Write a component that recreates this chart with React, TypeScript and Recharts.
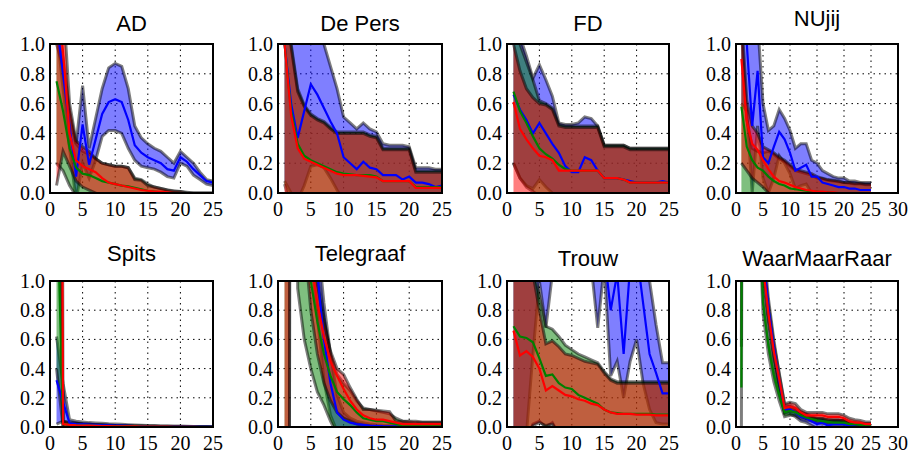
import React from "react";
import { ComposedChart, Area, Line, XAxis, YAxis, CartesianGrid } from "recharts";

const STEPS = [1, 2, 3, 4, 5, 6, 7, 8, 9, 10, 11, 12, 13, 14, 15, 16, 17, 18, 19, 20, 21, 22, 23, 24, 25];
const Y_TICKS = [0, 0.2, 0.4, 0.6, 0.8, 1.0];
const X_TICKS_25 = [0, 5, 10, 15, 20, 25];
const X_TICKS_30 = [0, 5, 10, 15, 20, 25, 30];

// AD
const AD_BLUE = [1.15, 0.8, 0.45, 0.11, 0.46, 0.19, 0.36, 0.53, 0.61, 0.63, 0.61, 0.49, 0.32, 0.27, 0.24, 0.22, 0.2, 0.16, 0.15, 0.24, 0.21, 0.16, 0.12, 0.08, 0.07];
const AD_BLUE_HI = [1.2, 0.9, 0.55, 0.33, 0.72, 0.3, 0.5, 0.7, 0.84, 0.87, 0.85, 0.7, 0.45, 0.37, 0.33, 0.3, 0.28, 0.24, 0.2, 0.28, 0.24, 0.2, 0.14, 0.09, 0.08];
const AD_BLUE_LO = [1.1, 0.7, 0.3, -0.05, 0.2, 0.1, 0.22, 0.38, 0.42, 0.42, 0.4, 0.3, 0.22, 0.18, 0.17, 0.16, 0.14, 0.11, 0.1, 0.2, 0.18, 0.12, 0.09, 0.06, 0.05];
const AD_GREEN = [0.75, 0.55, 0.3, 0.17, 0.13, 0.12, 0.1, 0.08, 0.07, 0.06, 0.05, 0.045, 0.035, 0.025, 0.015, 0.01, 0.005, 0, 0, 0, 0, 0, 0, 0, 0];
const AD_GREEN_HI = [1.0, 0.85, 0.5, 0.33, 0.28, 0.26, 0.23, 0.2, 0.19, 0.18, 0.18, 0.17, 0.1, 0.09, 0.06, 0.04, 0.03, 0.02, 0.01, 0.01, 0, 0, 0, 0, 0];
const AD_GREEN_LO = [0.2, 0.15, 0.05, -0.02, -0.04, -0.05, -0.05, -0.05, -0.05, -0.05, -0.05, -0.05, -0.04, -0.04, -0.03, -0.02, -0.02, -0.02, -0.01, -0.01, -0.01, -0.01, -0.01, -0.01, -0.01];
const AD_RED = [1.4, 0.95, 0.4, 0.22, 0.18, 0.16, 0.14, 0.1, 0.07, 0.06, 0.05, 0.04, 0.03, 0.02, 0.015, 0.01, 0.01, 0.005, 0, 0, 0, 0, 0, 0, 0];
const AD_RED_HI = [1.8, 1.3, 0.6, 0.35, 0.31, 0.28, 0.23, 0.2, 0.19, 0.18, 0.18, 0.17, 0.09, 0.085, 0.05, 0.04, 0.03, 0.02, 0.015, 0.01, 0.005, 0, 0, 0, 0];
const AD_RED_LO = [0.05, 0.28, 0.18, 0.08, 0.04, 0.02, 0, -0.02, -0.02, -0.02, -0.02, -0.02, -0.02, -0.02, -0.02, -0.02, -0.02, -0.02, -0.02, -0.02, -0.02, -0.02, -0.02, -0.02, -0.02];

// De Pers
const DP_BLUE = [1.0, 0.6, 0.37, 0.55, 0.73, 0.66, 0.57, 0.48, 0.4, 0.24, 0.2, 0.16, 0.21, 0.17, 0.16, 0.12, 0.12, 0.12, 0.09, 0.11, 0.07, 0.07, 0.06, 0.04, 0.05];
const DP_BLUE_HI = [1.5, 1.3, 1.1, 1.2, 1.3, 1.1, 1.0, 0.85, 0.7, 0.51, 0.47, 0.43, 0.47, 0.43, 0.41, 0.33, 0.32, 0.32, 0.32, 0.31, 0.17, 0.17, 0.17, 0.16, 0.16];
const DP_BLUE_LO = [0.08, 0, -0.05, 0.05, 0.18, 0.19, 0.17, 0.1, 0.02, -0.05, -0.05, -0.05, -0.05, -0.05, -0.05, -0.05, -0.05, -0.05, -0.05, -0.05, -0.05, -0.05, -0.05, -0.05, -0.05];
const DP_GREEN = [1.0, 0.55, 0.33, 0.25, 0.22, 0.2, 0.18, 0.16, 0.14, 0.13, 0.125, 0.12, 0.12, 0.12, 0.11, 0.08, 0.08, 0.08, 0.08, 0.08, 0.04, 0.04, 0.04, 0.04, 0.04];
const DP_GREEN_HI = [1.3, 1.0, 0.7, 0.59, 0.53, 0.5, 0.48, 0.44, 0.41, 0.41, 0.41, 0.41, 0.41, 0.39, 0.38, 0.3, 0.3, 0.3, 0.3, 0.3, 0.15, 0.15, 0.15, 0.15, 0.15];
const DP_GREEN_LO = [0.06, -0.1, -0.15, -0.15, -0.1, -0.1, -0.08, -0.06, -0.05, -0.05, -0.05, -0.05, -0.05, -0.05, -0.05, -0.05, -0.05, -0.05, -0.05, -0.05, -0.05, -0.05, -0.05, -0.05, -0.05];
const DP_RED = [1.0, 0.52, 0.3, 0.23, 0.21, 0.19, 0.17, 0.15, 0.13, 0.12, 0.12, 0.12, 0.115, 0.11, 0.105, 0.08, 0.08, 0.08, 0.08, 0.08, 0.035, 0.035, 0.035, 0.035, 0.035];
const DP_RED_HI = [1.25, 0.98, 0.68, 0.58, 0.52, 0.49, 0.47, 0.43, 0.4, 0.4, 0.4, 0.4, 0.4, 0.38, 0.37, 0.29, 0.29, 0.29, 0.29, 0.29, 0.14, 0.14, 0.14, 0.14, 0.14];
const DP_RED_LO = [-0.05, -0.1, -0.1, -0.1, -0.1, -0.1, -0.08, -0.06, -0.05, -0.05, -0.05, -0.05, -0.05, -0.05, -0.05, -0.05, -0.05, -0.05, -0.05, -0.05, -0.05, -0.05, -0.05, -0.05, -0.05];

// FD
const FD_BLUE = [0.66, 0.56, 0.49, 0.4, 0.47, 0.4, 0.33, 0.27, 0.18, 0.14, 0.14, 0.24, 0.22, 0.15, 0.1, 0.1, 0.1, 0.09, 0.08, 0.07, 0.07, 0.07, 0.07, 0.08, 0.07];
const FD_BLUE_HI = [1.25, 1.05, 0.92, 0.77, 0.86, 0.76, 0.65, 0.47, 0.46, 0.46, 0.47, 0.51, 0.5, 0.45, 0.32, 0.32, 0.32, 0.32, 0.3, 0.3, 0.3, 0.3, 0.3, 0.3, 0.3];
const FD_BLUE_LO = [0.2, 0.1, 0.05, 0.03, 0.09, 0.04, 0, -0.05, -0.05, -0.05, -0.05, -0.05, -0.05, -0.05, -0.05, -0.05, -0.05, -0.05, -0.05, -0.05, -0.05, -0.05, -0.05, -0.05, -0.05];
const FD_GREEN = [0.68, 0.55, 0.47, 0.38, 0.3, 0.26, 0.23, 0.19, 0.16, 0.15, 0.15, 0.15, 0.15, 0.15, 0.1, 0.1, 0.1, 0.09, 0.07, 0.07, 0.07, 0.07, 0.07, 0.07, 0.07];
const FD_GREEN_HI = [1.2, 1.0, 0.88, 0.76, 0.62, 0.6, 0.57, 0.46, 0.45, 0.45, 0.45, 0.45, 0.45, 0.45, 0.32, 0.32, 0.32, 0.32, 0.3, 0.3, 0.3, 0.3, 0.3, 0.3, 0.3];
const FD_GREEN_LO = [0.2, 0.1, 0.04, 0.01, -0.02, -0.05, -0.05, -0.05, -0.05, -0.05, -0.05, -0.05, -0.05, -0.05, -0.05, -0.05, -0.05, -0.05, -0.05, -0.05, -0.05, -0.05, -0.05, -0.05, -0.05];
const FD_RED = [0.61, 0.43, 0.36, 0.3, 0.25, 0.24, 0.22, 0.15, 0.15, 0.15, 0.15, 0.15, 0.15, 0.15, 0.1, 0.1, 0.1, 0.09, 0.07, 0.07, 0.07, 0.07, 0.07, 0.07, 0.07];
const FD_RED_HI = [1.0, 0.82, 0.7, 0.64, 0.6, 0.59, 0.56, 0.45, 0.44, 0.44, 0.44, 0.44, 0.44, 0.44, 0.31, 0.31, 0.31, 0.31, 0.29, 0.29, 0.29, 0.29, 0.29, 0.29, 0.29];
const FD_RED_LO = [-0.1, -0.1, -0.1, -0.1, -0.1, -0.1, -0.08, -0.06, -0.05, -0.05, -0.05, -0.05, -0.05, -0.05, -0.05, -0.05, -0.05, -0.05, -0.05, -0.05, -0.05, -0.05, -0.05, -0.05, -0.05];

// NUjij
const NU_BLUE = [1.1, 1.0, 0.45, 0.82, 0.24, 0.2, 0.31, 0.41, 0.36, 0.27, 0.15, 0.17, 0.19, 0.11, 0.11, 0.07, 0.06, 0.05, 0.04, 0.04, 0.03, 0.03, 0.02, 0.02, 0.02];
const NU_BLUE_HI = [1.5, 1.4, 1.0, 1.15, 0.6, 0.42, 0.45, 0.56, 0.5, 0.42, 0.3, 0.33, 0.33, 0.22, 0.2, 0.15, 0.13, 0.11, 0.1, 0.1, 0.08, 0.08, 0.07, 0.07, 0.07];
const NU_BLUE_LO = [0.6, 0.55, 0, 0.45, 0.1, 0, 0.1, 0.25, 0.2, 0.13, 0.03, 0.05, 0.06, 0, 0, -0.02, -0.02, -0.02, -0.02, -0.02, -0.02, -0.02, -0.02, -0.02, -0.02];
const NU_GREEN = [0.58, 0.31, 0.22, 0.17, 0.15, 0.11, 0.08, 0.06, 0.05, 0.03, 0.025, 0.02, 0.015, 0.01, 0.01, 0.005, 0.005, 0, 0, 0, 0, 0, 0, 0, 0];
const NU_GREEN_HI = [1.1, 0.5, 0.3, 0.28, 0.27, 0.28, 0.26, 0.23, 0.21, 0.18, 0.15, 0.14, 0.13, 0.12, 0.1, 0.095, 0.085, 0.08, 0.075, 0.07, 0.065, 0.06, 0.06, 0.055, 0.055];
const NU_GREEN_LO = [0, -0.05, -0.05, -0.05, -0.05, -0.05, -0.05, -0.05, -0.05, -0.05, -0.05, -0.05, -0.05, -0.05, -0.05, -0.05, -0.05, -0.05, -0.05, -0.05, -0.05, -0.05, -0.05, -0.05, -0.05];
const NU_RED = [0.9, 0.48, 0.33, 0.29, 0.22, 0.16, 0.11, 0.08, 0.07, 0.055, 0.04, 0.03, 0.02, 0.015, 0.01, 0.01, 0.005, 0.005, 0, 0, 0, 0, 0, 0, 0];
const NU_RED_HI = [1.2, 0.62, 0.45, 0.4, 0.31, 0.29, 0.27, 0.24, 0.22, 0.19, 0.16, 0.15, 0.14, 0.13, 0.11, 0.1, 0.09, 0.085, 0.08, 0.07, 0.07, 0.065, 0.065, 0.06, 0.06];
const NU_RED_LO = [0.2, 0.15, 0.1, 0.07, 0.04, 0, -0.02, -0.02, -0.02, -0.02, -0.02, -0.02, -0.02, -0.02, -0.02, -0.02, -0.02, -0.02, -0.02, -0.02, -0.02, -0.02, -0.02, -0.02, -0.02];

// Spits
const SP_BLUE = [0.32, 0.17, 0.025, 0.02, 0.018, 0.016, 0.014, 0.012, 0.011, 0.01, 0.009, 0.008, 0.007, 0.006, 0.005, 0.005, 0.004, 0.004, 0.003, 0.003, 0.002, 0.002, 0.001, 0.001, 0.001];
const SP_BLUE_HI = [0.62, 0.3, 0.05, 0.04, 0.035, 0.03, 0.028, 0.025, 0.022, 0.02, 0.018, 0.016, 0.014, 0.012, 0.01, 0.01, 0.009, 0.008, 0.007, 0.006, 0.005, 0.004, 0.003, 0.003, 0.002];
const SP_BLUE_LO = [0.02, 0.04, 0, -0.01, -0.01, -0.01, -0.01, -0.01, -0.01, -0.01, -0.01, -0.01, -0.01, -0.01, -0.01, -0.01, -0.01, -0.01, -0.01, -0.01, -0.01, -0.01, -0.01, -0.01, -0.01];
const SP_GREEN = [1.7, 0.02, 0.015, 0.012, 0.01, 0.009, 0.008, 0.007, 0.006, 0.005, 0.005, 0.004, 0.004, 0.003, 0.003, 0.002, 0.002, 0.002, 0.001, 0.001, 0.001, 0.001, 0, 0, 0];
const SP_GREEN_HI = [3.0, 0.04, 0.03, 0.025, 0.02, 0.018, 0.016, 0.014, 0.012, 0.01, 0.009, 0.008, 0.007, 0.006, 0.005, 0.005, 0.004, 0.004, 0.003, 0.003, 0.002, 0.002, 0.001, 0.001, 0.001];
const SP_GREEN_LO = [0.4, 0, -0.01, -0.01, -0.01, -0.01, -0.01, -0.01, -0.01, -0.01, -0.01, -0.01, -0.01, -0.01, -0.01, -0.01, -0.01, -0.01, -0.01, -0.01, -0.01, -0.01, -0.01, -0.01, -0.01];
const SP_RED = [12, 0.02, 0.015, 0.012, 0.01, 0.009, 0.008, 0.007, 0.006, 0.005, 0.005, 0.004, 0.004, 0.003, 0.003, 0.002, 0.002, 0.002, 0.001, 0.001, 0.001, 0.001, 0, 0, 0];
const SP_RED_HI = [20, 0.04, 0.03, 0.025, 0.02, 0.018, 0.016, 0.014, 0.012, 0.01, 0.009, 0.008, 0.007, 0.006, 0.005, 0.005, 0.004, 0.004, 0.003, 0.003, 0.002, 0.002, 0.001, 0.001, 0.001];
const SP_RED_LO = [4, 0, -0.01, -0.01, -0.01, -0.01, -0.01, -0.01, -0.01, -0.01, -0.01, -0.01, -0.01, -0.01, -0.01, -0.01, -0.01, -0.01, -0.01, -0.01, -0.01, -0.01, -0.01, -0.01, -0.01];

// Telegraaf
const TG_BLUE = [30, 20, 8, 3, 1.6, 1.05, 0.6, 0.3, 0.1, 0.05, 0.03, 0.02, 0.015, 0.01, 0.008, 0.006, 0.005, 0.004, 0.003, 0.002, 0.002, 0.001, 0.001, 0.001, 0.001];
const TG_BLUE_HI = [40, 30, 12, 4, 1.9, 1.3, 0.85, 0.5, 0.22, 0.1, 0.06, 0.04, 0.03, 0.02, 0.015, 0.012, 0.01, 0.008, 0.006, 0.005, 0.004, 0.003, 0.003, 0.002, 0.002];
const TG_BLUE_LO = [20, 10, 4, 2, 1.2, 0.75, 0.32, 0.08, -0.03, -0.02, -0.02, -0.02, -0.02, -0.02, -0.02, -0.02, -0.02, -0.02, -0.02, -0.02, -0.02, -0.02, -0.02, -0.02, -0.02];
const TG_GREEN = [25, 15, 4, 1.8, 1.0, 0.72, 0.5, 0.35, 0.24, 0.19, 0.15, 0.1, 0.06, 0.05, 0.04, 0.04, 0.03, 0.02, 0.01, 0.01, 0.01, 0.01, 0.01, 0.01, 0.01];
const TG_GREEN_HI = [60, 40, 8, 3, 1.6, 1.05, 0.75, 0.5, 0.36, 0.3, 0.25, 0.18, 0.13, 0.12, 0.11, 0.1, 0.09, 0.06, 0.04, 0.035, 0.03, 0.03, 0.03, 0.03, 0.03];
const TG_GREEN_LO = [-30, 10, 0.95, 0.6, 0.4, 0.24, 0.15, 0.04, -0.05, -0.05, -0.05, -0.05, -0.05, -0.05, -0.05, -0.05, -0.05, -0.05, -0.05, -0.05, -0.05, -0.05, -0.05, -0.05, -0.05];
const TG_RED = [30, 20, 5, 2.2, 1.15, 0.85, 0.62, 0.45, 0.35, 0.26, 0.18, 0.12, 0.08, 0.06, 0.05, 0.05, 0.04, 0.03, 0.02, 0.02, 0.02, 0.02, 0.02, 0.02, 0.02];
const TG_RED_HI = [60, 40, 8, 3, 1.2, 0.98, 0.72, 0.52, 0.4, 0.36, 0.27, 0.19, 0.12, 0.12, 0.115, 0.11, 0.105, 0.04, 0.04, 0.04, 0.04, 0.035, 0.035, 0.035, 0.035];
const TG_RED_LO = [-30, 10, 2, 1.3, 0.8, 0.5, 0.3, 0.18, 0.1, 0.06, 0.04, 0.02, 0.01, 0.005, 0, -0.01, -0.01, -0.01, -0.01, -0.01, -0.01, -0.01, -0.01, -0.01, -0.01];

// Trouw
const TR_BLUE = [1.5, 1.6, 1.7, 1.8, 2.0, 1.8, 1.6, 1.5, 1.5, 1.5, 1.5, 1.4, 1.4, 1.3, 1.2, 0.8, 1.05, 0.5, 1.1, 1.2, 0.85, 0.5, 0.37, 0.23, 0.23];
const TR_BLUE_HI = [2.5, 2.5, 2.5, 2.6, 2.8, 2.5, 2.3, 2.2, 2.2, 2.2, 2.2, 2.1, 2.1, 2.0, 1.8, 1.3, 1.5, 1.2, 1.6, 1.8, 1.4, 1.0, 0.7, 0.44, 0.44];
const TR_BLUE_LO = [-0.5, -0.3, -0.05, 0.5, 1.0, 0.68, 1.05, 1.3, 1.4, 1.3, 1.2, 1.2, 1.1, 0.68, 1.1, 0.35, 0.45, 0.2, 0.45, 0.6, 0.3, 0.12, 0.03, 0.02, 0.02];
const TR_GREEN = [0.69, 0.62, 0.61, 0.58, 0.47, 0.35, 0.36, 0.3, 0.27, 0.26, 0.22, 0.2, 0.18, 0.16, 0.12, 0.1, 0.095, 0.09, 0.09, 0.09, 0.09, 0.09, 0.085, 0.085, 0.085];
const TR_GREEN_HI = [2, 2, 1.5, 1.1, 0.9, 0.69, 0.67, 0.62, 0.56, 0.53, 0.5, 0.48, 0.46, 0.44, 0.38, 0.33, 0.31, 0.31, 0.31, 0.31, 0.31, 0.31, 0.31, 0.31, 0.31];
const TR_GREEN_LO = [-0.5, -0.3, -0.1, 0.02, 0.04, 0, 0.03, -0.05, -0.05, -0.05, -0.05, -0.05, -0.05, -0.05, -0.05, -0.05, -0.05, -0.05, -0.05, -0.05, -0.05, -0.05, -0.05, -0.05, -0.05];
const TR_RED = [0.66, 0.49, 0.52, 0.48, 0.4, 0.25, 0.28, 0.25, 0.22, 0.21, 0.19, 0.18, 0.16, 0.15, 0.12, 0.1, 0.09, 0.09, 0.09, 0.085, 0.085, 0.085, 0.08, 0.08, 0.08];
const TR_RED_HI = [2, 2, 1.4, 1.05, 0.8, 0.57, 0.59, 0.55, 0.5, 0.49, 0.47, 0.45, 0.44, 0.43, 0.37, 0.32, 0.3, 0.3, 0.3, 0.3, 0.3, 0.3, 0.3, 0.3, 0.3];
const TR_RED_LO = [-0.5, -0.3, -0.1, 0.01, 0.03, 0.01, 0.02, -0.05, -0.05, -0.05, -0.05, -0.05, -0.05, -0.05, -0.05, -0.05, -0.05, -0.05, -0.05, -0.05, -0.05, -0.05, -0.05, -0.05, -0.05];

// WaarMaarRaar
const WM_BLUE = [40, 30, 12, 3.5, 1.2, 0.82, 0.55, 0.32, 0.12, 0.12, 0.1, 0.07, 0.06, 0.04, 0.02, 0.03, 0.01, 0.02, 0.02, 0.02, 0.01, 0.005, 0, 0, 0];
const WM_BLUE_HI = [50, 35, 14, 4, 1.28, 0.88, 0.6, 0.36, 0.15, 0.15, 0.13, 0.1, 0.09, 0.07, 0.05, 0.055, 0.04, 0.045, 0.045, 0.045, 0.035, 0.03, 0.02, 0.02, 0.02];
const WM_BLUE_LO = [30, 25, 10, 3, 1.12, 0.76, 0.5, 0.28, 0.09, 0.09, 0.07, 0.04, 0.03, 0.01, -0.01, 0, -0.02, -0.01, -0.01, -0.01, -0.02, -0.02, -0.02, -0.02, -0.02];
const WM_GREEN = [0.27, 20, 8, 2.0, 0.85, 0.56, 0.36, 0.22, 0.1, 0.11, 0.1, 0.08, 0.065, 0.055, 0.045, 0.04, 0.035, 0.03, 0.03, 0.03, 0.02, 0.02, 0.015, 0.01, 0.01];
const WM_GREEN_HI = [0.55, 25, 10, 2.3, 0.92, 0.62, 0.41, 0.26, 0.13, 0.14, 0.12, 0.1, 0.08, 0.07, 0.06, 0.055, 0.05, 0.045, 0.045, 0.045, 0.035, 0.03, 0.025, 0.02, 0.02];
const WM_GREEN_LO = [0, 15, 6, 1.7, 0.78, 0.5, 0.31, 0.18, 0.07, 0.08, 0.08, 0.06, 0.05, 0.04, 0.03, 0.025, 0.02, 0.015, 0.015, 0.015, 0.01, 0.01, 0.005, 0, 0];
const WM_RED = [30, 20, 10, 3, 1.1, 0.78, 0.52, 0.33, 0.13, 0.14, 0.13, 0.1, 0.08, 0.08, 0.08, 0.08, 0.07, 0.07, 0.07, 0.06, 0.04, 0.03, 0.03, 0.02, 0.02];
const WM_RED_HI = [40, 25, 12, 3.3, 1.17, 0.84, 0.57, 0.37, 0.16, 0.17, 0.16, 0.12, 0.1, 0.1, 0.1, 0.1, 0.09, 0.09, 0.09, 0.08, 0.06, 0.05, 0.045, 0.035, 0.035];
const WM_RED_LO = [20, 15, 8, 2.7, 1.03, 0.72, 0.47, 0.29, 0.1, 0.11, 0.1, 0.08, 0.06, 0.06, 0.06, 0.06, 0.05, 0.05, 0.05, 0.04, 0.02, 0.01, 0.01, 0.005, 0.005];

const PANELS = [
  { title: "AD", xMax: 25, blue: [AD_BLUE, AD_BLUE_LO, AD_BLUE_HI], green: [AD_GREEN, AD_GREEN_LO, AD_GREEN_HI], red: [AD_RED, AD_RED_LO, AD_RED_HI] },
  { title: "De Pers", xMax: 25, blue: [DP_BLUE, DP_BLUE_LO, DP_BLUE_HI], green: [DP_GREEN, DP_GREEN_LO, DP_GREEN_HI], red: [DP_RED, DP_RED_LO, DP_RED_HI] },
  { title: "FD", xMax: 25, blue: [FD_BLUE, FD_BLUE_LO, FD_BLUE_HI], green: [FD_GREEN, FD_GREEN_LO, FD_GREEN_HI], red: [FD_RED, FD_RED_LO, FD_RED_HI] },
  { title: "NUjij", xMax: 30, blue: [NU_BLUE, NU_BLUE_LO, NU_BLUE_HI], green: [NU_GREEN, NU_GREEN_LO, NU_GREEN_HI], red: [NU_RED, NU_RED_LO, NU_RED_HI] },
  { title: "Spits", xMax: 25, blue: [SP_BLUE, SP_BLUE_LO, SP_BLUE_HI], green: [SP_GREEN, SP_GREEN_LO, SP_GREEN_HI], red: [SP_RED, SP_RED_LO, SP_RED_HI] },
  { title: "Telegraaf", xMax: 25, blue: [TG_BLUE, TG_BLUE_LO, TG_BLUE_HI], green: [TG_GREEN, TG_GREEN_LO, TG_GREEN_HI], red: [TG_RED, TG_RED_LO, TG_RED_HI] },
  { title: "Trouw", xMax: 25, blue: [TR_BLUE, TR_BLUE_LO, TR_BLUE_HI], green: [TR_GREEN, TR_GREEN_LO, TR_GREEN_HI], red: [TR_RED, TR_RED_LO, TR_RED_HI] },
  { title: "WaarMaarRaar", xMax: 30, blue: [WM_BLUE, WM_BLUE_LO, WM_BLUE_HI], green: [WM_GREEN, WM_GREEN_LO, WM_GREEN_HI], red: [WM_RED, WM_RED_LO, WM_RED_HI] },
];

const COLORS = { blue: "#0000ff", green: "#008000", red: "#ff0000" };
const SERIES = ["blue", "green", "red"] as const;

// plot-area boxes, matplotlib-like grid of 2x4
const COL_LEFT = [50, 278, 507, 736];
const COL_W = [163, 164, 162, 162];
const ROW_TOP = [44, 281];
const ROW_H = [149, 146];
const ROW_TITLE_BASE = [32, 266.5];

const SERIF = '"Liberation Serif", "DejaVu Serif", serif';
const TICK_STYLE = { fill: "#000", fontSize: 20, fontFamily: SERIF };

function XTick({ x, y, payload }: any) {
  return (
    <text x={x} y={y} dy="0.71em" textAnchor="middle" style={TICK_STYLE}>
      {payload.value}
    </text>
  );
}

function YTick({ x, y, payload }: any) {
  return (
    <text x={x} y={y} dy="0.35em" textAnchor="end" style={TICK_STYLE}>
      {Number(payload.value).toFixed(1)}
    </text>
  );
}

function Panel({ panel, left, top, w, h, titleBase }: any) {
  const rows = STEPS.map((step, i) => {
    const r: any = { step };
    SERIES.forEach((s) => {
      r[s] = panel[s][0][i];
      r[s + "Band"] = [panel[s][1][i], panel[s][2][i]];
    });
    return r;
  });
  const descender = /[gjpqy]/.test(panel.title) ? 5 : 0;

  return (
    <>
      <div
        style={{
          position: "absolute",
          left: left + w / 2,
          top: titleBase - descender - 18.6,
          transform: "translateX(-50%)",
          font: '22px "Liberation Sans", Arial, sans-serif',
          lineHeight: "22px",
          whiteSpace: "nowrap",
          color: "#000",
        }}
      >
        {panel.title}
      </div>
      <div style={{ position: "absolute", left: left - 48, top: top - 40 }}>
        <ComposedChart
          width={48 + w + 16}
          height={40 + h + 30}
          data={rows}
          margin={{ top: 40, right: 16, bottom: 0, left: 0 }}
        >
          <CartesianGrid stroke="#000" strokeDasharray="1.5 4" strokeWidth={1} />
          <XAxis
            type="number"
            dataKey="step"
            domain={[0, panel.xMax]}
            ticks={panel.xMax === 30 ? X_TICKS_30 : X_TICKS_25}
            allowDataOverflow
            interval={0}
            axisLine={false}
            tickLine={false}
            tickSize={0}
            tickMargin={9}
            height={30}
            tick={<XTick />}
          />
          <YAxis
            type="number"
            domain={[0, 1]}
            ticks={Y_TICKS}
            allowDataOverflow
            interval={0}
            axisLine={false}
            tickLine={false}
            tickSize={0}
            tickMargin={5}
            width={48}
            tick={<YTick />}
          />
          {SERIES.map((s) => (
            <Area
              key={s + "Band"}
              type="linear"
              dataKey={s + "Band"}
              fill={COLORS[s]}
              fillOpacity={0.5}
              stroke="#000"
              strokeOpacity={0.5}
              strokeWidth={3}
              dot={false}
              activeDot={false}
              isAnimationActive={false}
            />
          ))}
          {SERIES.map((s) => (
            <Line
              key={s}
              type="linear"
              dataKey={s}
              stroke={COLORS[s]}
              strokeWidth={2.2}
              dot={false}
              activeDot={false}
              isAnimationActive={false}
            />
          ))}
        </ComposedChart>
      </div>
      <div
        style={{
          position: "absolute",
          left: left - 1,
          top: top - 1,
          width: w + 2,
          height: h + 2,
          border: "2px solid #000",
          boxSizing: "border-box",
          pointerEvents: "none",
        }}
      />
    </>
  );
}

export default function App() {
  return (
    <div style={{ position: "absolute", left: 0, top: 0, width: 912, height: 454, background: "#fff", overflow: "hidden" }}>
      {PANELS.map((p, i) => {
        const col = i % 4;
        const row = Math.floor(i / 4);
        return (
          <Panel
            key={p.title}
            panel={p}
            left={COL_LEFT[col]}
            top={ROW_TOP[row]}
            w={COL_W[col]}
            h={ROW_H[row]}
            titleBase={ROW_TITLE_BASE[row]}
          />
        );
      })}
    </div>
  );
}
